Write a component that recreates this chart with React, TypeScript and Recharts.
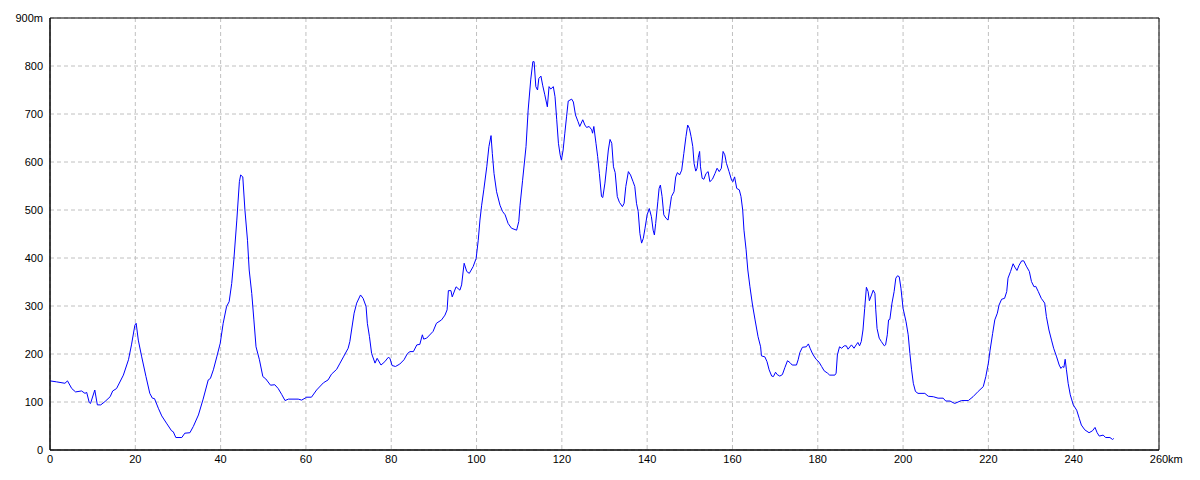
import React from "react";
import {
  LineChart,
  Line,
  XAxis,
  YAxis,
  CartesianGrid,
  ReferenceArea,
} from "recharts";

const distanceKm: number[] = [
  0, 1.5, 3.5, 4.1, 5.1, 6.0, 7.4, 8.2, 8.6, 9.2, 9.5, 10.5, 11.1, 11.9, 12.9, 14.1, 14.7, 15.6, 17.2, 18.4,
  19.1, 19.9, 20.2, 20.7, 21.5, 22.5, 23.4, 24.0, 24.5, 25.4, 26.2, 27.3, 28.5, 28.9, 29.5, 30.9, 31.6, 32.8, 33.6, 34.8,
  35.9, 37.1, 37.6, 38.3, 39.1, 39.9, 40.6, 41.4, 42.0, 42.6, 43.1, 43.8, 44.4, 44.7, 45.2, 45.7, 46.3, 46.7, 47.3, 47.8,
  48.3, 49.1, 49.9, 50.6, 51.7, 52.7, 53.5, 54.3, 55.1, 55.9, 58.2, 59.0, 60.2, 61.3, 62.5, 64.1, 65.2, 66.0, 67.2, 68.0,
  68.8, 69.9, 70.3, 70.7, 71.3, 71.9, 72.8, 73.4, 74.1, 74.4, 74.9, 75.4, 76.2, 76.7, 77.6, 78.5, 79.3, 79.7, 80.2, 81.0,
  82.0, 83.0, 83.8, 84.4, 85.2, 86.0, 86.7, 87.3, 87.6, 88.3, 89.8, 90.6, 91.8, 92.6, 93.1, 93.4, 94.0, 94.3, 95.2, 96.1,
  96.5, 96.9, 97.1, 97.7, 98.3, 99.2, 99.9, 100.4, 100.8, 101.2, 101.7, 102.4, 102.9, 103.4, 103.7, 104.1, 104.7, 105.5, 106.1, 106.7,
  107.4, 108.2, 109.4, 109.9, 110.2, 110.8, 111.6, 112.1, 112.7, 113.2, 113.5, 113.9, 114.3, 114.6, 115.1, 115.5, 116.0, 116.6, 117.0, 117.4,
  118.0, 118.4, 118.8, 119.2, 119.6, 119.9, 120.3, 120.7, 121.1, 121.5, 122.3, 122.7, 123.2, 123.8, 124.2, 124.9, 125.4, 125.8, 126.4, 127.0,
  127.2, 127.5, 128.0, 128.4, 128.8, 129.3, 129.6, 130.1, 130.5, 130.9, 131.3, 131.7, 132.1, 132.5, 133.0, 133.5, 134.2, 134.6, 135.0, 135.6,
  136.1, 136.7, 137.1, 137.5, 137.9, 138.3, 138.7, 139.1, 139.5, 140.0, 140.5, 141.0, 141.4, 141.7, 142.0, 142.5, 142.8, 143.1, 143.5, 143.9,
  144.4, 144.9, 145.3, 145.7, 146.3, 146.7, 147.1, 147.6, 148.1, 148.6, 149.1, 149.5, 149.9, 150.3, 150.7, 151.0, 151.4, 151.7, 152.0, 152.3,
  152.5, 152.9, 153.3, 153.8, 154.3, 154.7, 155.3, 155.9, 156.4, 156.9, 157.4, 157.8, 158.2, 158.6, 159.2, 159.8, 160.1, 160.5, 161.0, 161.6,
  162.0, 162.4, 162.7, 163.2, 163.6, 164.1, 164.7, 165.3, 166.0, 166.6, 166.8, 167.6, 168.1, 168.6, 169.2, 169.6, 170.1, 170.5, 171.1, 171.7,
  172.3, 172.9, 173.5, 174.0, 175.0, 175.4, 175.8, 176.4, 177.3, 177.8, 178.2, 178.8, 179.6, 180.3, 180.9, 181.5, 182.3, 182.8, 184.0, 184.3,
  184.6, 185.1, 185.6, 186.2, 186.7, 187.1, 187.9, 188.5, 189.0, 189.4, 189.8, 190.2, 190.6, 191.0, 191.4, 191.8, 192.1, 192.6, 193.0, 193.4,
  193.6, 193.9, 194.4, 194.9, 195.6, 195.9, 196.3, 196.6, 196.9, 197.4, 197.9, 198.3, 198.7, 199.1, 199.5, 200.0, 200.7, 201.2, 201.6, 202.0,
  202.4, 202.9, 203.5, 205.1, 205.9, 207.1, 208.2, 209.4, 210.0, 211.0, 212.1, 213.7, 215.3, 216.4, 217.6, 218.8, 219.4, 220.0, 220.4, 221.0,
  221.5, 222.1, 222.5, 223.1, 223.8, 224.3, 224.6, 225.2, 225.8, 226.2, 226.7, 227.2, 227.8, 228.3, 228.9, 229.6, 230.1, 230.7, 231.1, 231.7,
  232.4, 233.2, 233.6, 234.2, 234.8, 235.3, 236.0, 236.6, 237.0, 237.4, 237.7, 238.0, 238.3, 238.7, 239.2, 239.9, 240.7, 241.3, 241.8, 242.6,
  243.6, 244.4, 245.0, 245.5, 246.0, 246.9, 247.5, 248.5, 249.1, 249.4,
];

const elevationM: number[] = [
  144, 142, 139, 144, 128, 121, 123, 118, 120, 99, 97, 125, 94, 94, 101, 111, 123, 128, 156, 188,
  219, 260, 264, 229, 194, 153, 118, 108, 107, 87, 71, 56, 40, 38, 26, 26, 35, 36, 49, 73,
  106, 146, 149, 167, 194, 222, 264, 299, 309, 347, 396, 479, 559, 573, 569, 500, 437, 375, 326, 271,
  215, 188, 153, 148, 135, 136, 128, 116, 103, 106, 106, 104, 110, 110, 125, 140, 146, 158, 168, 181,
  194, 212, 226, 250, 285, 306, 323, 316, 299, 264, 236, 201, 181, 191, 177, 184, 193, 191, 176, 174,
  179, 188, 201, 205, 205, 219, 220, 240, 231, 233, 247, 264, 271, 281, 292, 332, 332, 319, 340, 333,
  344, 375, 389, 372, 368, 382, 399, 437, 479, 510, 542, 590, 632, 655, 618, 576, 538, 510, 497, 490,
  472, 462, 458, 476, 510, 562, 632, 708, 771, 809, 809, 757, 750, 774, 779, 760, 740, 715, 757, 752,
  757, 736, 688, 639, 615, 604, 625, 660, 694, 727, 731, 725, 698, 684, 674, 688, 677, 672, 674, 667,
  660, 674, 639, 611, 576, 528, 526, 556, 590, 625, 647, 639, 590, 578, 528, 516, 507, 514, 549, 580,
  573, 559, 549, 514, 497, 451, 431, 441, 462, 490, 503, 486, 458, 448, 472, 517, 545, 552, 528, 490,
  483, 479, 503, 528, 538, 569, 578, 573, 583, 618, 653, 677, 670, 653, 632, 597, 581, 587, 610, 622,
  590, 566, 564, 576, 580, 559, 564, 576, 587, 580, 587, 622, 615, 597, 580, 562, 559, 569, 545, 542,
  528, 500, 458, 417, 375, 340, 302, 271, 236, 215, 196, 194, 184, 167, 154, 153, 162, 157, 154, 157,
  172, 186, 182, 177, 177, 188, 203, 214, 215, 221, 212, 200, 189, 183, 174, 165, 160, 156, 156, 160,
  198, 215, 212, 217, 217, 210, 219, 212, 219, 224, 217, 226, 250, 295, 339, 330, 311, 323, 333, 326,
  292, 253, 233, 226, 217, 219, 240, 271, 272, 306, 330, 358, 363, 361, 337, 295, 267, 240, 201, 167,
  139, 122, 118, 118, 112, 111, 108, 108, 102, 102, 97, 103, 103, 111, 122, 132, 153, 181, 208, 243,
  271, 285, 302, 314, 316, 330, 358, 372, 388, 381, 374, 385, 394, 394, 383, 372, 351, 340, 341, 330,
  316, 306, 278, 250, 229, 212, 194, 177, 170, 174, 172, 189, 167, 139, 115, 94, 83, 66, 52, 42,
  36, 40, 47, 36, 29, 31, 26, 26, 22, 24,
];

const xTicks: number[] = [0, 20, 40, 60, 80, 100, 120, 140, 160, 180, 200, 220, 240, 260];
const yTicks: number[] = [0, 100, 200, 300, 400, 500, 600, 700, 800, 900];

const chartData = distanceKm.map((km, i) => ({ km, elev: elevationM[i] }));

const FONT = "'Liberation Sans', Arial, sans-serif";

const XTick = (props: any) => {
  const { x, y, payload } = props;
  const v = payload.value;
  const isLast = v === xTicks[xTicks.length - 1];
  return (
    <g>
      <text x={x} y={y} dy="0.71em" textAnchor="middle" fontSize={11} fontFamily={FONT} fill="#000">
        {v}
      </text>
      {isLast && (
        <text x={x + 9} y={y} dy="0.71em" textAnchor="start" fontSize={11} fontFamily={FONT} fill="#000">
          km
        </text>
      )}
    </g>
  );
};

export default function App() {
  return (
    <div style={{ position: "absolute", left: 0, top: 0, width: 1200, height: 480, background: "#fff" }}>
      <LineChart
        width={1200}
        height={480}
        data={chartData}
        margin={{ top: 18, right: 41, left: 0, bottom: 0 }}
      >
        <CartesianGrid stroke="#c0c0c0" strokeDasharray="4 3" horizontalValues={yTicks} verticalValues={xTicks} />
        <XAxis
          dataKey="km"
          type="number"
          domain={[0, 260]}
          ticks={xTicks}
          interval={0}
          height={30}
          tickLine={false}
          tickSize={0}
          tickMargin={5}
          axisLine={{ stroke: "#000" }}
          tick={<XTick />}
        />
        <YAxis
          type="number"
          domain={[0, 900]}
          ticks={yTicks}
          interval={0}
          width={50}
          tickLine={false}
          tickSize={0}
          tickMargin={7}
          axisLine={{ stroke: "#000" }}
          tick={{ fontSize: 11, fontFamily: FONT, fill: "#000" }}
          tickFormatter={(v: number) => (v === 900 ? "900m" : String(v))}
        />
        <ReferenceArea
          x1={0}
          x2={260}
          y1={0}
          y2={900}
          fill="none"
          fillOpacity={0}
          stroke="#000"
          strokeWidth={1}
          ifOverflow="visible"
        />
        <Line
          type="linear"
          dataKey="elev"
          stroke="#0000ff"
          strokeWidth={1}
          dot={false}
          activeDot={false}
          isAnimationActive={false}
        />
      </LineChart>
    </div>
  );
}
